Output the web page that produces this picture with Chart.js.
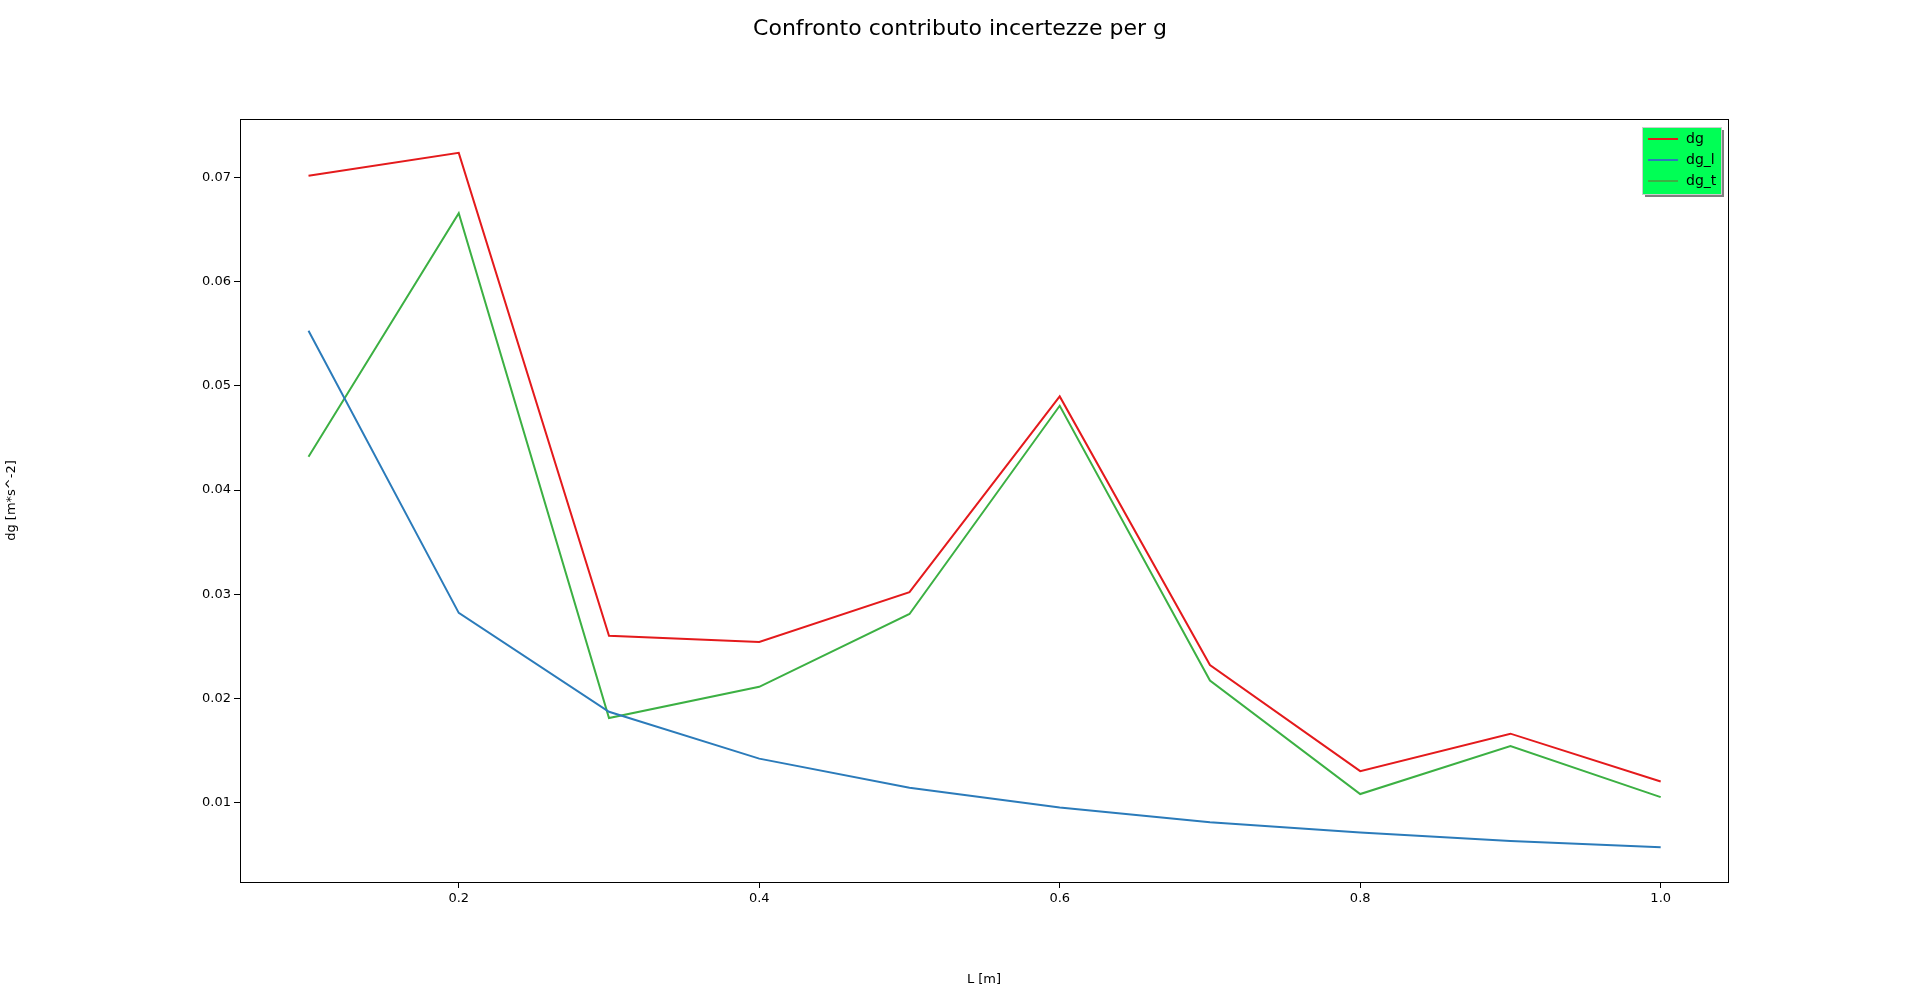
<!DOCTYPE html>
<html>
<head>
<meta charset="utf-8">
<script src="https://cdn.jsdelivr.net/npm/chart.js@4"></script>
<style>
  html, body { margin: 0; padding: 0; background: #fff; }
  #wrap { width: 1920px; height: 991px; }
</style>
</head>
<body>
<div id="wrap"><canvas id="chart"></canvas></div>
<script>
// Data
const lengths = [0.1, 0.2, 0.3, 0.4, 0.5, 0.6, 0.7, 0.8, 0.9, 1.0];
const dg = [0.0702, 0.0724, 0.0260, 0.0254, 0.0302, 0.0490, 0.0232, 0.0130, 0.0166, 0.0120];
const dgL = [0.0553, 0.0282, 0.0187, 0.0142, 0.0114, 0.0095, 0.0081, 0.0071, 0.0063, 0.0057];
const dgT = [0.0432, 0.0666, 0.0181, 0.0211, 0.0281, 0.0481, 0.0217, 0.0108, 0.0154, 0.0105];
const seriesNames = ['dg', 'dg_l', 'dg_t'];
const seriesColors = ['#e41a1c', '#2b7bba', '#3cb043'];

const FONT = 'DejaVu Sans';

function toPoints(arr) {
    return arr.map((v, i) => ({ x: lengths[i], y: v }));
}

// Title, frame and boxed legend like matplotlib
const extras = {
    id: 'extras',
    afterDraw(c) {
        const ctx = c.ctx;
        const a = c.chartArea;
        ctx.save();
        ctx.fillStyle = '#000';
        ctx.font = '22px ' + FONT;
        ctx.textAlign = 'center';
        ctx.textBaseline = 'middle';
        ctx.fillText('Confronto contributo incertezze per g', 960, 29);

        ctx.strokeStyle = '#000';
        ctx.lineWidth = 1;
        ctx.strokeRect(a.left + 0.5, a.top + 0.5, a.right - a.left, a.bottom - a.top);

        // legend
        const w = 79, h = 67;
        const x = a.right - w - 7, y = a.top + 8;
        ctx.fillStyle = 'rgba(0,0,0,0.5)';
        ctx.fillRect(x + 3, y + 3, w, h);
        ctx.fillStyle = '#00ff55';
        ctx.fillRect(x, y, w, h);
        ctx.strokeStyle = '#ccc';
        ctx.strokeRect(x + 0.5, y + 0.5, w, h);
        ctx.font = '14px ' + FONT;
        ctx.textAlign = 'left';
        seriesNames.forEach((name, i) => {
            const ly = y + 12 + i * 21;
            ctx.strokeStyle = seriesColors[i];
            ctx.lineWidth = 2;
            ctx.beginPath();
            ctx.moveTo(x + 6, ly);
            ctx.lineTo(x + 36, ly);
            ctx.stroke();
            ctx.fillStyle = '#000';
            ctx.fillText(name, x + 44, ly);
        });
        ctx.restore();
    }
};

new Chart(document.getElementById('chart'), {
    type: 'line',
    data: {
        datasets: [dg, dgL, dgT].map((arr, i) => ({
            label: seriesNames[i],
            data: toPoints(arr),
            borderColor: seriesColors[i],
            borderWidth: 2,
            pointRadius: 0,
            tension: 0,
            fill: false
        }))
    },
    options: {
        responsive: true,
        maintainAspectRatio: false,
        animation: false,
        layout: { padding: { top: 119, right: 192, left: 0, bottom: 0 } },
        plugins: { legend: { display: false }, tooltip: { enabled: false } },
        scales: {
            x: {
                type: 'linear',
                min: 0.0544,
                max: 1.0448,
                afterFit: s => { s.height = 109; },
                afterBuildTicks: s => { s.ticks = [0.2, 0.4, 0.6, 0.8, 1.0].map(v => ({ value: v })); },
                ticks: { color: '#000', font: { family: FONT, size: 13 }, callback: v => v.toFixed(1), maxRotation: 0 },
                grid: { drawOnChartArea: false, color: '#000', tickLength: 6 },
                border: { color: '#000' },
                title: { display: true, text: 'L [m]', color: '#000', font: { family: FONT, size: 13 }, padding: { top: 4 } }
            },
            y: {
                min: 0.00235,
                max: 0.07565,
                afterFit: s => { s.width = 240; },
                afterBuildTicks: s => { s.ticks = [0.01, 0.02, 0.03, 0.04, 0.05, 0.06, 0.07].map(v => ({ value: v })); },
                ticks: { color: '#000', font: { family: FONT, size: 13 }, callback: v => v.toFixed(2) },
                grid: { drawOnChartArea: false, color: '#000', tickLength: 6 },
                border: { color: '#000' },
                title: { display: true, text: 'dg [m*s^-2]', color: '#000', font: { family: FONT, size: 13 } }
            }
        }
    },
    plugins: [extras]
});
</script>
</body>
</html>
